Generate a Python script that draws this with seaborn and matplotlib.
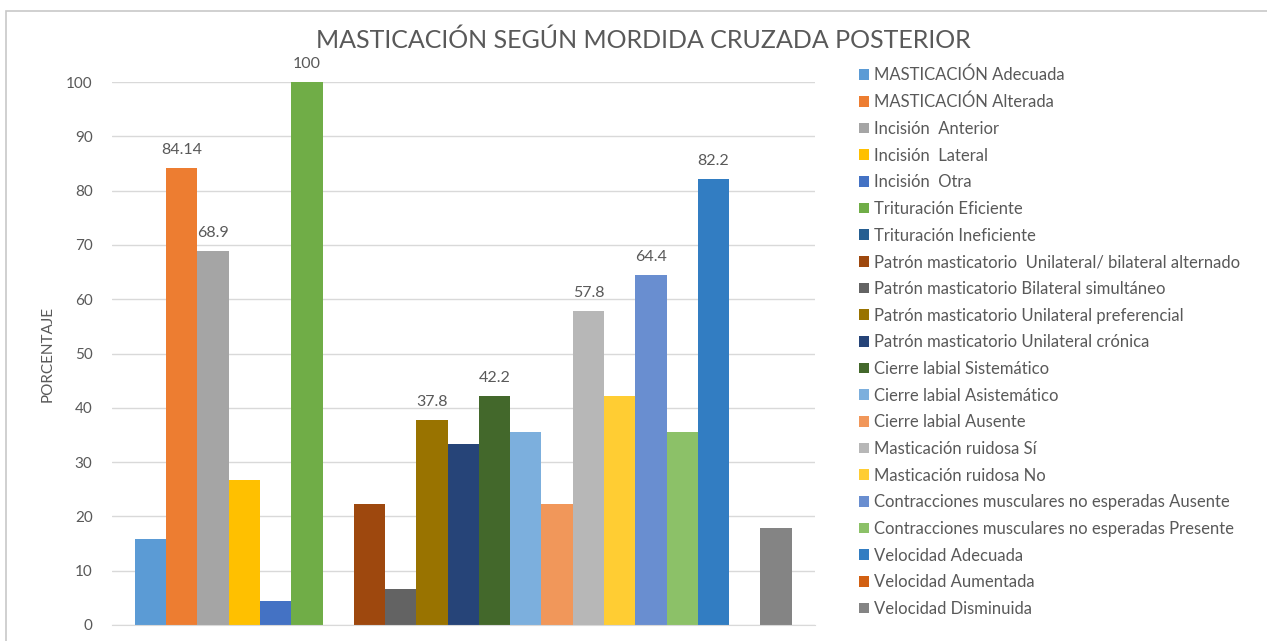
import matplotlib
matplotlib.use("Agg")
import matplotlib.pyplot as plt
import seaborn as sns
import pandas as pd
from matplotlib.patches import Rectangle

series = [
    "MASTICACIÓN Adecuada",
    "MASTICACIÓN Alterada",
    "Incisión  Anterior",
    "Incisión  Lateral",
    "Incisión  Otra",
    "Trituración Eficiente",
    "Trituración Ineficiente",
    "Patrón masticatorio  Unilateral/ bilateral alternado",
    "Patrón masticatorio Bilateral simultáneo",
    "Patrón masticatorio Unilateral preferencial",
    "Patrón masticatorio Unilateral crónica",
    "Cierre labial Sistemático",
    "Cierre labial Asistemático",
    "Cierre labial Ausente",
    "Masticación ruidosa Sí",
    "Masticación ruidosa No",
    "Contracciones musculares no esperadas Ausente",
    "Contracciones musculares no esperadas Presente",
    "Velocidad Adecuada",
    "Velocidad Aumentada",
    "Velocidad Disminuida",
]
values = [15.86, 84.14, 68.9, 26.7, 4.4, 100, 0, 22.2, 6.7, 37.8, 33.3,
          42.2, 35.6, 22.2, 57.8, 42.2, 64.4, 35.6, 82.2, 0, 17.8]
labels = ["", "84.14", "68.9", "", "", "100", "", "", "", "37.8", "",
          "42.2", "", "", "57.8", "", "64.4", "", "82.2", "", ""]
colors = ["#5B9BD5", "#ED7D31", "#A5A5A5", "#FFC000", "#4472C4", "#70AD47",
          "#255E91", "#9E480E", "#636363", "#997300", "#264478", "#43682B",
          "#7CAFDD", "#F1975A", "#B7B7B7", "#FFCD33", "#698ED0", "#8CC168",
          "#327DC2", "#D26012", "#848484"]

title = "MASTICACIÓN SEGÚN MORDIDA CRUZADA POSTERIOR"
ylabel = "PORCENTAJE"

sns.set_style("white")
plt.rcParams["font.family"] = ["Lato", "DejaVu Sans"]
TXT = "#595959"

df = pd.DataFrame({"cat": ["A"] * len(series), "serie": series, "valor": values})

fig = plt.figure(figsize=(12.67, 6.41), dpi=100)
ax = fig.add_axes([0.0884, 0.025, 0.5545, 0.847])

sns.barplot(data=df, x="cat", y="valor", hue="serie", hue_order=series,
            palette=colors, width=0.935, gap=0, saturation=1, ax=ax,
            legend=True, edgecolor="none", linewidth=0)

ax.set_xlim(-0.5, 0.5)
ax.set_ylim(0, 100)
ax.set_yticks(range(0, 101, 10))
ax.yaxis.grid(True, color="#D9D9D9", linewidth=1)
ax.set_axisbelow(True)
for s in ["top", "right", "left"]:
    ax.spines[s].set_visible(False)
ax.spines["bottom"].set_color("#D9D9D9")
ax.set_xticks([])
ax.set_xlabel("")
ax.tick_params(axis="y", length=0, pad=14, labelsize=11, labelcolor=TXT)
ax.set_ylabel(ylabel, color=TXT, fontsize=11, labelpad=8)

for cont, lab in zip(ax.containers, labels):
    if lab:
        ax.bar_label(cont, labels=[lab], padding=8, color=TXT, fontsize=11.5,
                     clip_on=False)

handles, lbls = ax.get_legend_handles_labels()
ax.legend_.remove()
fig.legend(handles, lbls, loc="upper left", bbox_to_anchor=(0.678, 0.896),
           frameon=False, fontsize=12, labelcolor=TXT, handlelength=0.6,
           handleheight=0.6, handletextpad=0.3, labelspacing=0.64,
           borderaxespad=0, borderpad=0)

fig.text(0.508, 0.937, title, ha="center", va="center", fontsize=18,
         color=TXT)

fig.patches.append(Rectangle((6 / 1267, -0.01), 1.2, 1.0 - 11 / 641 + 0.01,
                             transform=fig.transFigure, fill=False,
                             edgecolor="#C8C8C8", linewidth=1.2))

fig.savefig("out.png", dpi=100)
